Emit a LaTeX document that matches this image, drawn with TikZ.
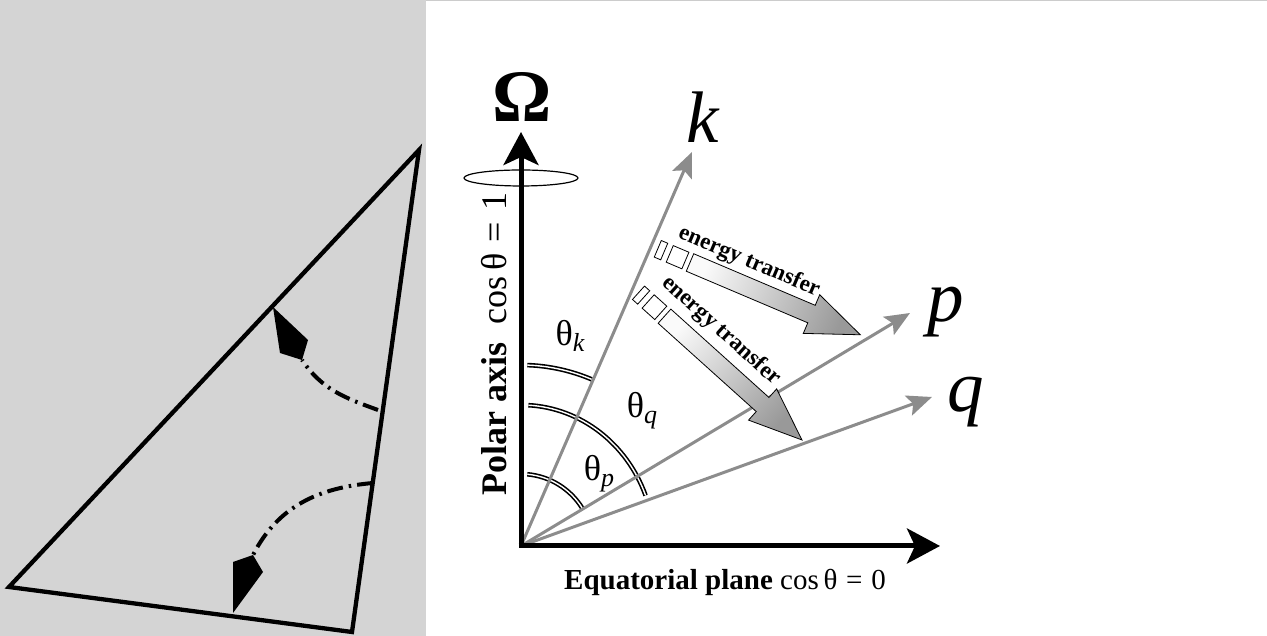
\documentclass[tikz,border=0pt]{standalone}
\usepackage{fontspec}
\setmainfont{Liberation Serif}
\usetikzlibrary{arrows.meta}

\definecolor{panelgray}{RGB}{212,212,212}
\definecolor{raygray}{RGB}{140,140,140}

\begin{document}
\begin{tikzpicture}[
    x=1pt, y=1pt,
    sketch/.style      ={line width=4.3pt, line join=miter},
    dashdotline/.style ={line width=4pt, dash pattern=on 16pt off 6pt on 2.5pt off 6pt},
    mainaxis/.style    ={line width=5pt, -{Stealth[length=33pt, width=35pt, inset=8pt]}},
    rayline/.style     ={draw=raygray, line width=3pt,
                         -{Stealth[length=25pt, width=21pt, inset=5pt]}},
    anglemark/.style   ={line width=1.6pt, double=white, double distance=1.4pt},
    tbox/.style        ={draw=black, line width=0.8pt, fill=white},
    bigarrow/.style    ={draw=black, line width=0.8pt, top color=gray!4, bottom color=gray!80},
    biglbl/.style      ={inner sep=0pt, font=\fontsize{73}{73}\selectfont\itshape},
    thlbl/.style       ={inner sep=0pt, font=\fontsize{36}{36}\selectfont},
    axlbl/.style       ={inner sep=0pt, font=\fontsize{29}{29}\selectfont},
    etlbl/.style       ={inner sep=0pt, font=\fontsize{23}{23}\selectfont\bfseries}
]
\useasboundingbox (0,0) rectangle (1267,636);

% --- Grey sketch panel on the left. ---
\fill[panelgray] (0,0) rectangle (426,636);
\draw[gray!40, line width=1pt] (426,635.5) -- (1267,635.5);

\coordinate (ta) at (9,49);
\coordinate (tb) at (419,486);
\coordinate (tc) at (352,4);
\draw[sketch] (ta) -- (tb) -- (tc) -- cycle;

% --- Two dash-dot sweeps ending in kite heads. ---
\draw[dashdotline] (378,226) to[out=160,in=-56] (302,276);
\fill (302,276) -- (308,296) -- (273,329) -- (280,283) -- cycle;
\draw[dashdotline] (373,153) to[out=185,in=63] (253,81);
\fill (253,81) -- (263,64) -- (233,23) -- (233,74) -- cycle;

% --- Rotation frame: origin and tips. ---
\coordinate (O)    at (521,90);
\coordinate (ytip) at (521,504);
\coordinate (xtip) at (940,90);
\coordinate (ktip) at (692,484);
\coordinate (ptip) at (910,323);
\coordinate (qtip) at (932,239);

\draw[line width=1.2pt] (521,458) ellipse[x radius=57, y radius=8];

% --- Angle marks (double arcs from the polar axis). ---
\draw[anglemark] ([shift={(88:181)}]O) arc[start angle=88, end angle=67, radius=181];
\draw[anglemark] ([shift={(87:141)}]O)
  arc[start angle=87, end angle=21, x radius=133, y radius=141];
\draw[anglemark] ([shift={(85:72)}]O) arc[start angle=85, end angle=32, radius=72];

% --- Wave vectors. ---
\draw[rayline] (O) -- (ktip);
\draw[rayline] (O) -- (ptip);
\draw[rayline] (O) -- (qtip);

% --- Upper energy-transfer arrow. ---
\begin{scope}[shift={(690,373.5)}, rotate=-23]
  \draw[tbox] (-35,-9) rectangle (-28,9);
  \draw[tbox] (-22,-9) rectangle (-5,9);
  \shade[bigarrow, shading angle=67]
    (0,9.5) -- (132,9.5) -- (132,21) -- (185,0) -- (132,-21) -- (132,-9.5) -- (0,-9.5) -- cycle;
  \node[etlbl, rotate=-23] (etupper) at (54,24) {energy transfer};
\end{scope}

% --- Lower energy-transfer arrow. ---
\begin{scope}[shift={(664.5,319.8)}, rotate=-42]
  \draw[tbox] (-35,-9) rectangle (-28,9);
  \draw[tbox] (-22,-9) rectangle (-5,9);
  \shade[bigarrow, shading angle=48]
    (0,9.5) -- (132,9.5) -- (132,21) -- (185,0) -- (132,-21) -- (132,-9.5) -- (0,-9.5) -- cycle;
  \node[etlbl, rotate=-42] (etlower) at (52,27) {energy transfer};
\end{scope}

% --- Black axes on top. ---
\draw[mainaxis] (O) -- (ytip);
\draw[mainaxis] ([xshift=-2.5pt]O) -- (xtip);

% --- Labels. ---
\node[inner sep=0pt, font=\fontsize{74}{74}\selectfont\bfseries] (omega) at (522,539) {Ω};
\node[biglbl] (klbl) at (703,519) {k};
\node[biglbl] (plbl) at (946,324) {p};
\node[biglbl] (qlbl) at (966,234) {q};

\node[thlbl] (thk) at (570,300) {θ\raisebox{-6pt}{\fontsize{26}{26}\selectfont\itshape k}};
\node[thlbl] (thq) at (642,225) {θ\raisebox{-6pt}{\fontsize{26}{26}\selectfont\itshape q}};
\node[thlbl] (thp) at (599,162) {θ\raisebox{-6pt}{\fontsize{26}{26}\selectfont\itshape p}};

\node[axlbl, rotate=90, font=\fontsize{36}{36}\selectfont] (polar) at (494,292)
  {\textbf{Polar axis}\hspace{0.5em}cos\,θ\hspace{0.3em}=\hspace{0.3em}1};
\node[axlbl] (equat) at (725,54)
  {\textbf{Equatorial plane} cos\,θ\hspace{0.3em}=\hspace{0.3em}0};

\end{tikzpicture}
\end{document}
